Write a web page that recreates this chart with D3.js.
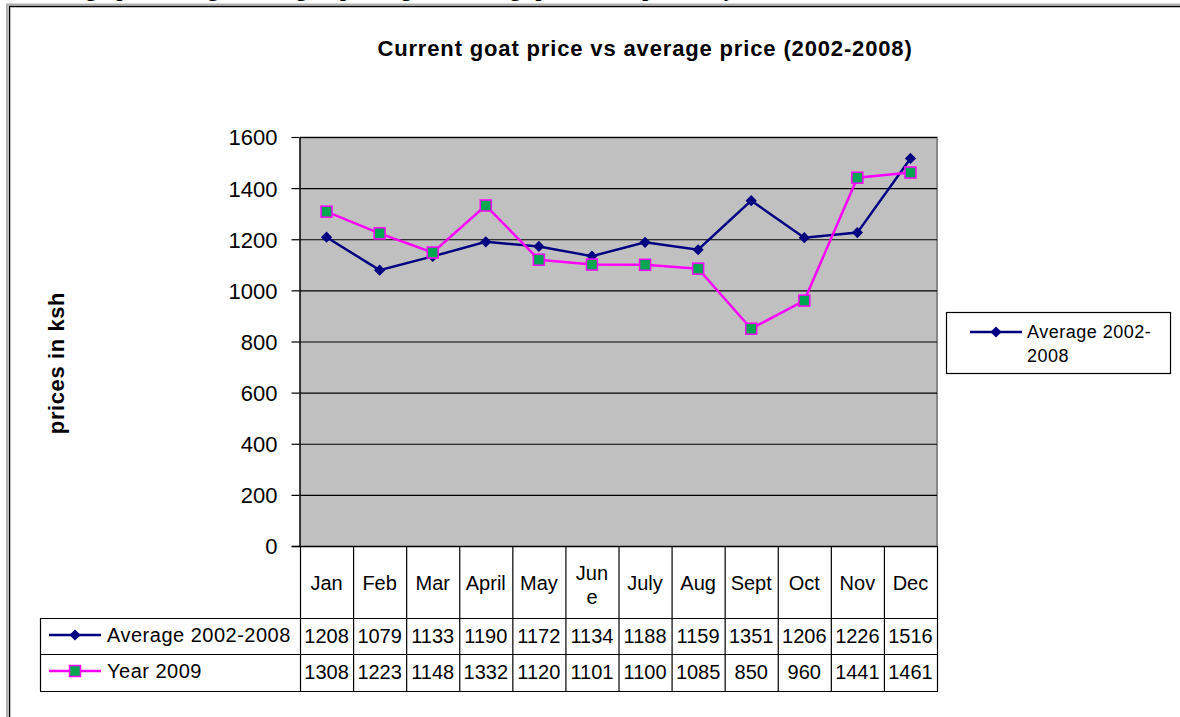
<!DOCTYPE html>
<html>
<head>
<meta charset="utf-8">
<script src="https://cdn.jsdelivr.net/npm/d3@7"></script>
<style>
  body { margin: 0; background: #fff; }
  svg { display: block; font-family: "Liberation Sans", Arial, sans-serif; }
</style>
</head>
<body>
<div id="chart"></div>
<script>
// datos del grafico
const months = ["Jan", "Feb", "Mar", "April", "May", "June", "July", "Aug", "Sept", "Oct", "Nov", "Dec"];
const avgPrices = [1208, 1079, 1133, 1190, 1172, 1134, 1188, 1159, 1351, 1206, 1226, 1516];
const prices2009 = [1308, 1223, 1148, 1332, 1120, 1101, 1100, 1085, 850, 960, 1441, 1461];
const yTicks = [0, 200, 400, 600, 800, 1000, 1200, 1400, 1600];
const seriesNames = ["Average 2002-2008", "Year 2009"];

const width = 1180, height = 717;
const svg = d3.select("#chart").append("svg")
    .attr("width", width)
    .attr("height", height);

// texto del documento cortado arriba
svg.append("text")
    .attr("x", 40)
    .attr("y", -4)
    .attr("font-family", "Liberation Serif, Times New Roman, serif")
    .attr("font-weight", "bold")
    .attr("font-size", 21)
    .text("Line graph showing current goat price against average price of the previous years");

// marco exterior
svg.append("path")
    .attr("d", "M7,717 V4.5 H1180")
    .attr("fill", "none").attr("stroke", "#b0b0b0").attr("stroke-width", 2);
svg.append("path")
    .attr("d", "M9.5,717 V6.5 H1180")
    .attr("fill", "none").attr("stroke", "#000").attr("stroke-width", 1.5);

// titulo
svg.append("text")
    .attr("x", 645)
    .attr("y", 56)
    .attr("text-anchor", "middle")
    .attr("font-weight", "bold")
    .attr("font-size", 22)
    .attr("letter-spacing", 0.85)
    .text("Current goat price vs average price (2002-2008)");

// escalas
const x = d3.scaleBand().domain(months).range([300, 937]).padding(0);
const y = d3.scaleLinear().domain([0, 1600]).range([546, 137]);
const cx = d => x(d) + x.bandwidth() / 2;

// area del grafico
svg.append("rect")
    .attr("x", 300).attr("y", 137)
    .attr("width", 637).attr("height", 546 - 137)
    .attr("fill", "#c0c0c0");
svg.append("path")
    .attr("d", "M300,137.5 H937 V546")
    .attr("fill", "none").attr("stroke", "#888").attr("stroke-width", 2);

// lineas de cuadricula
svg.append("g")
    .attr("transform", "translate(300,0)")
    .call(d3.axisLeft(y).tickValues(yTicks.slice(1)).tickSize(-637).tickFormat(""))
    .call(g => g.select(".domain").remove())
    .call(g => g.selectAll("line").attr("stroke", "#000").attr("stroke-width", 1.2));

// eje Y
svg.append("g")
    .attr("transform", "translate(299.5,0)")
    .call(d3.axisLeft(y).tickValues(yTicks).tickFormat(d3.format("d"))
        .tickSize(8).tickPadding(14).tickSizeOuter(0))
    .call(g => g.select(".domain").attr("stroke", "#000").attr("stroke-width", 1.5))
    .call(g => g.selectAll("line").attr("stroke", "#000").attr("stroke-width", 1.2))
    .call(g => g.selectAll("text")
        .attr("font-family", "Liberation Sans, Arial, sans-serif")
        .attr("font-size", 22).attr("fill", "#000").attr("dy", "0.36em"));

// titulo eje Y
svg.append("text")
    .attr("transform", "translate(64,363) rotate(-90)")
    .attr("text-anchor", "middle")
    .attr("font-weight", "bold")
    .attr("font-size", 22)
    .attr("letter-spacing", 0.6)
    .text("prices in ksh");

// eje X (linea base)
svg.append("line")
    .attr("x1", 292).attr("x2", 937)
    .attr("y1", 546.5).attr("y2", 546.5)
    .attr("stroke", "#000").attr("stroke-width", 1.5);

// series
const line = d3.line().x((d, i) => cx(months[i])).y(d => y(d));

svg.append("path")
    .datum(avgPrices)
    .attr("d", line)
    .attr("fill", "none").attr("stroke", "#000080").attr("stroke-width", 2.5);

svg.append("path")
    .datum(prices2009)
    .attr("d", line)
    .attr("fill", "none").attr("stroke", "#ff00ff").attr("stroke-width", 2.5);

const diamond = d3.symbol().type(d3.symbolDiamond2).size(80);

function drawDiamond(g, px, py) {
    g.append("path")
        .attr("d", diamond())
        .attr("transform", `translate(${px},${py})`)
        .attr("fill", "#000080");
}
function drawSquare(g, px, py) {
    g.append("rect")
        .attr("x", px - 5.5).attr("y", py - 5.5)
        .attr("width", 11).attr("height", 11)
        .attr("fill", "#00a650").attr("stroke", "#ff00ff").attr("stroke-width", 1.5);
}

const markers = svg.append("g");
avgPrices.forEach((v, i) => drawDiamond(markers, cx(months[i]), y(v)));
prices2009.forEach((v, i) => drawSquare(markers, cx(months[i]), y(v)));

// tabla de datos
const rowTop = 546, rowH = 618, row1 = 654, row2 = 691;
const table = svg.append("g").attr("stroke", "#000").attr("stroke-width", 1.2);

// verticales
months.forEach(m => {
    table.append("line").attr("x1", x(m) + 0.5).attr("x2", x(m) + 0.5)
        .attr("y1", rowTop).attr("y2", row2);
});
table.append("line").attr("x1", 937.5).attr("x2", 937.5).attr("y1", rowTop).attr("y2", row2);
table.append("line").attr("x1", 40.5).attr("x2", 40.5).attr("y1", rowH).attr("y2", row2);
// horizontales
[rowH, row1, row2].forEach(yy => {
    table.append("line").attr("x1", 40).attr("x2", 938)
        .attr("y1", yy + 0.5).attr("y2", yy + 0.5);
});

// etiquetas de meses
months.forEach(m => {
    if (m === "June") {
        svg.append("text").attr("x", cx(m)).attr("y", 580)
            .attr("text-anchor", "middle").attr("font-size", 20).text("Jun");
        svg.append("text").attr("x", cx(m)).attr("y", 604)
            .attr("text-anchor", "middle").attr("font-size", 20).text("e");
    } else {
        svg.append("text").attr("x", cx(m)).attr("y", 590)
            .attr("text-anchor", "middle").attr("font-size", 20).text(m);
    }
});

// valores
[avgPrices, prices2009].forEach((vals, r) => {
    const by = r === 0 ? 643 : 679;
    vals.forEach((v, i) => {
        svg.append("text")
            .attr("x", cx(months[i]))
            .attr("y", by)
            .attr("text-anchor", "middle")
            .attr("font-size", 20)
            .text(v);
    });
});

// leyenda dentro de la tabla
[0, 1].forEach(r => {
    const ly = r === 0 ? 635 : 671;
    svg.append("line").attr("x1", 49).attr("x2", 101).attr("y1", ly).attr("y2", ly)
        .attr("stroke", r === 0 ? "#000080" : "#ff00ff").attr("stroke-width", 2.5);
    if (r === 0) drawDiamond(svg, 75, ly); else drawSquare(svg, 75, ly);
    svg.append("text").attr("x", 107).attr("y", ly + 7)
        .attr("font-size", 20).attr("letter-spacing", 0.5)
        .text(seriesNames[r]);
});

// leyenda derecha
svg.append("rect")
    .attr("x", 946.5).attr("y", 312.5)
    .attr("width", 224).attr("height", 61)
    .attr("fill", "#fff").attr("stroke", "#000").attr("stroke-width", 1.2);
svg.append("line").attr("x1", 970).attr("x2", 1022).attr("y1", 332).attr("y2", 332)
    .attr("stroke", "#000080").attr("stroke-width", 2.5);
drawDiamond(svg, 996, 332);
svg.append("text").attr("x", 1027).attr("y", 338)
    .attr("font-size", 18).attr("letter-spacing", 0.5).text("Average 2002-");
svg.append("text").attr("x", 1027).attr("y", 362)
    .attr("font-size", 18).attr("letter-spacing", 0.5).text("2008");
</script>
</body>
</html>
